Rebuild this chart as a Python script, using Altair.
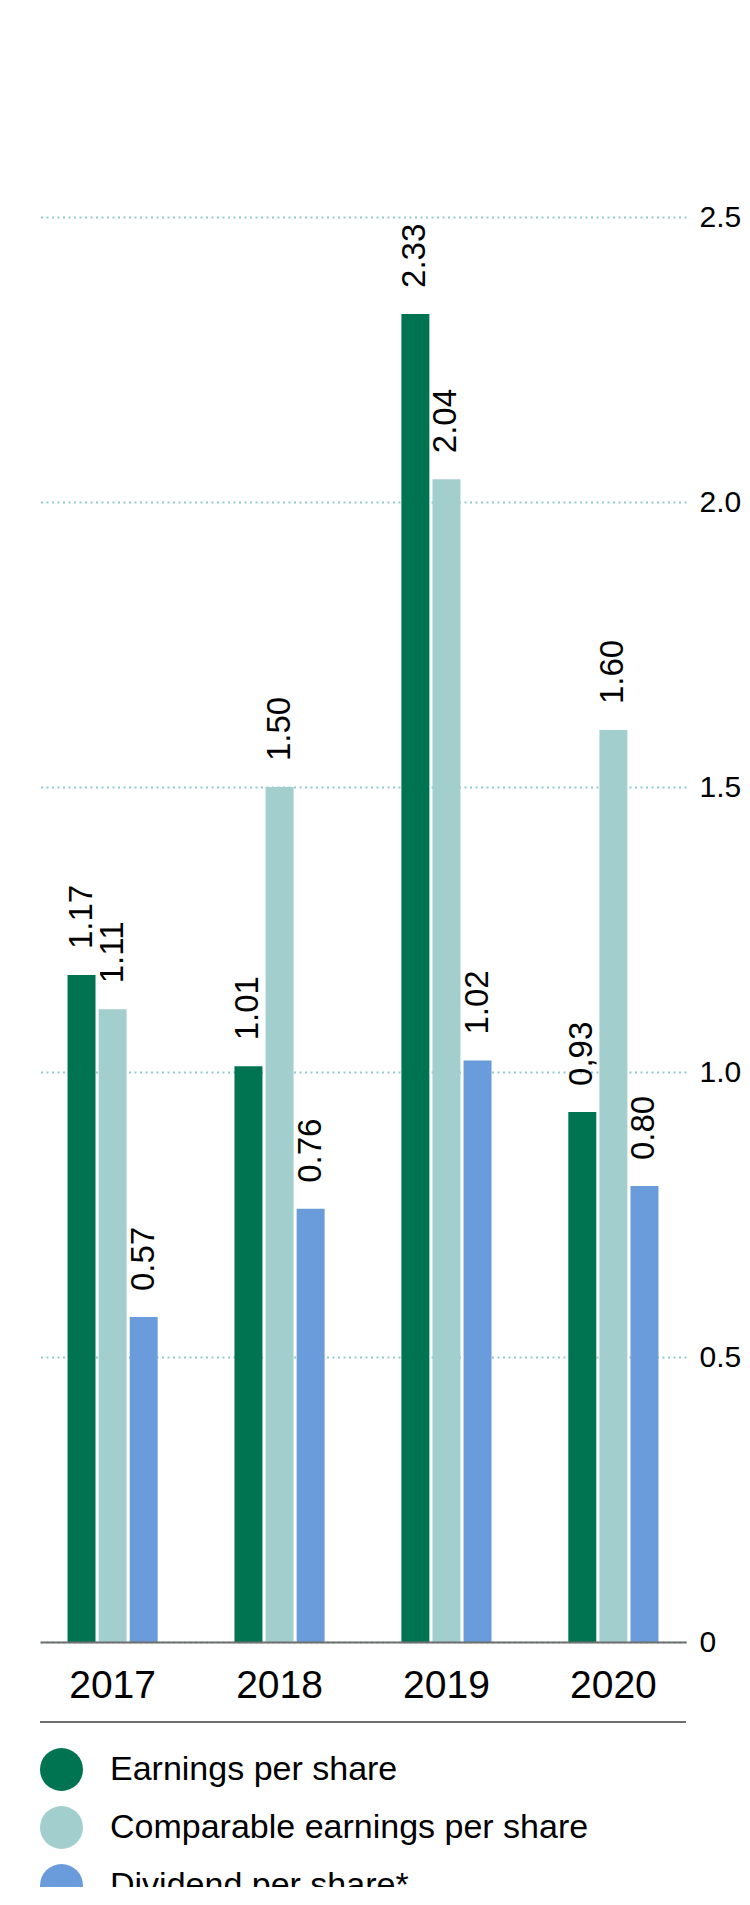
import altair as alt
import pandas as pd

years = ["2017", "2018", "2019", "2020"]
series = ["Earnings per share", "Comparable earnings per share", "Dividend per share*"]
eps = [1.17, 1.01, 2.33, 0.93]
comparable = [1.11, 1.50, 2.04, 1.60]
dividend = [0.57, 0.76, 1.02, 0.80]
eps_labels = ["1.17", "1.01", "2.33", "0,93"]
comparable_labels = ["1.11", "1.50", "2.04", "1.60"]
dividend_labels = ["0.57", "0.76", "1.02", "0.80"]
colors = ["#007350", "#a3cece", "#6a9bdb"]
y_ticks = [0, 0.5, 1.0, 1.5, 2.0, 2.5]

rows = []
for vals, labs, s in zip([eps, comparable, dividend],
                         [eps_labels, comparable_labels, dividend_labels], series):
    for yr, v, l in zip(years, vals, labs):
        rows.append({"Year": yr, "Series": s, "Value": v, "Label": l})
df = pd.DataFrame(rows)

W, H = 646, 1425
FONT = "Liberation Sans"
AXIS_GRAY = "#6f6f6f"

x = alt.X("Year:N", sort=years,
          scale=alt.Scale(paddingInner=0.46, paddingOuter=0.165),
          axis=alt.Axis(title=None, labelAngle=0, labelFontSize=39, labelColor="#000000",
                        labelFont=FONT, labelPadding=24, ticks=False, tickSize=0,
                        domainColor=AXIS_GRAY, domainWidth=2, zindex=2, grid=False))
xo = alt.XOffset("Series:N", sort=series, scale=alt.Scale(paddingInner=0.1))
y = alt.Y("Value:Q", scale=alt.Scale(domain=[0, 2.5]),
          axis=alt.Axis(title=None, orient="right", values=y_ticks,
                        labelExpr="datum.value == 0 ? '0' : format(datum.value, '.1f')",
                        labelFontSize=30, labelFont=FONT, labelColor="#000000",
                        labelPadding=13, domain=False, ticks=False, tickSize=0,
                        grid=True, gridColor="#93caca", gridDash=[2, 3.5], gridWidth=2))

base = alt.Chart(df).encode(x=x, xOffset=xo, y=y)

bars = base.mark_bar().encode(
    color=alt.Color("Series:N", sort=series,
                    scale=alt.Scale(domain=series, range=colors),
                    legend=alt.Legend(title=None, orient="none", legendX=0, legendY=1531,
                                      direction="vertical", symbolType="circle",
                                      symbolSize=1849, symbolStrokeWidth=0,
                                      labelFontSize=34, labelFont=FONT, labelColor="#000000",
                                      labelOffset=27, rowPadding=15, padding=0,
                                      labelLimit=700))
)

labels = base.mark_text(angle=270, align="left", baseline="middle", dx=26,
                        fontSize=33, font=FONT, color="#000000").encode(text="Label:N")

sep = alt.Chart(pd.DataFrame({"a": [0]})).mark_rule(color=AXIS_GRAY, strokeWidth=2).encode(
    x=alt.value(0), x2=alt.value(W), y=alt.value(H + 80))

chart = alt.layer(bars, labels, sep).properties(
    width=W, height=H,
    padding={"left": 32, "top": 209, "right": 56, "bottom": 245},
    autosize=alt.AutoSizeParams(type="none"),
).configure_view(stroke=None)

chart.save("out.html", embed_options={"renderer": "svg", "actions": False})
